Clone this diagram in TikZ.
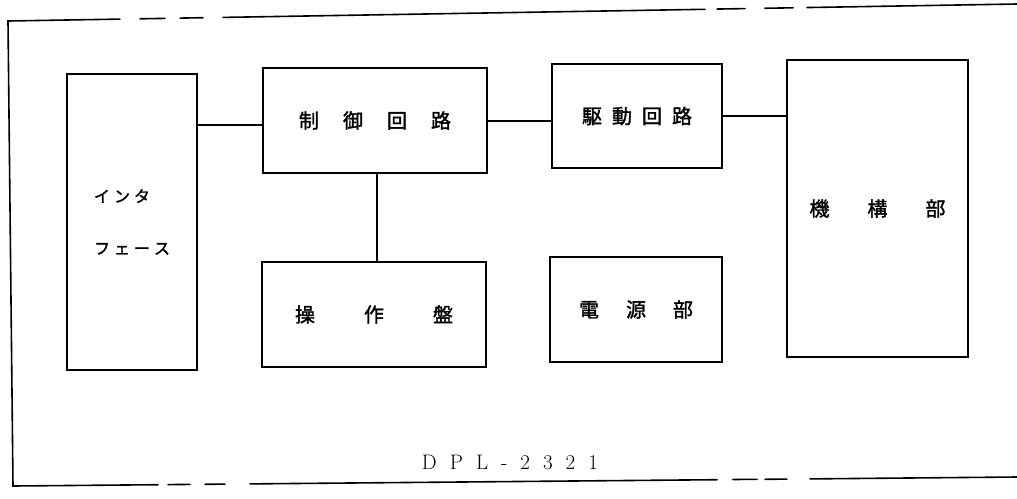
\documentclass[tikz,border=0pt]{standalone}
\usepackage{fontspec}
\newfontfamily\jp[FakeBold=1.6]{Noto Sans CJK JP}
\begin{document}
\begin{tikzpicture}[x=1pt,y=-1pt,
  blk/.style={draw, line width=2.2pt, rectangle, inner sep=0pt, font=\jp\fontsize{20}{20}\selectfont},
  wire/.style={line width=2pt},
  frame/.style={line width=1.6pt, line cap=round}]
\useasboundingbox (0,0) rectangle (1017,498);

% outer frame (broken print lines)
\draw[frame] (120,19.1) -- (8,21) -- (13,486) -- (158,484.7);
\draw[frame] (140,18.8) -- (165,18.4);
\draw[frame] (180,18.1) -- (203,17.7);
\draw[frame] (223,17.4) -- (705,9.3);
\draw[frame] (717,9.05) -- (745,8.6);
\draw[frame] (765,8.25) -- (793,7.8);
\draw[frame] (807,7.55) -- (1017,4);
\draw[frame] (168,484.6) -- (190,484.4);
\draw[frame] (205,484.3) -- (225,484.1);
\draw[frame] (250,483.9) -- (717,479.7);
\draw[frame] (733,479.5) -- (757,479.3);
\draw[frame] (765,479.3) -- (787,479.1);
\draw[frame] (810,478.9) -- (1017,477);

% blocks
\node[blk, minimum width=130pt, minimum height=296pt, align=left,
      font=\jp\fontsize{16}{52}\selectfont] (iface) at (132,222)
  {イ\hspace{4pt}ン\hspace{4pt}タ\\フ\hspace{4pt}ェ\hspace{4pt}ー\hspace{4pt}ス};
\node[blk, minimum width=224pt, minimum height=105pt] (ctrl) at (375,120.5)
  {制\hspace{24pt}御\hspace{24pt}回\hspace{24pt}路};
\node[blk, minimum width=170pt, minimum height=104pt] (drv) at (637,116)
  {駆\hspace{10pt}動\hspace{10pt}回\hspace{10pt}路\hspace{14pt}};
\node[blk, minimum width=181pt, minimum height=297pt] (mech) at (877.5,208.5)
  {\raisebox{-4pt}{機\hspace{38pt}構\hspace{38pt}部}};
\node[blk, minimum width=224pt, minimum height=105pt] (op) at (374,314.5)
  {\raisebox{-5pt}{操\hspace{49pt}作\hspace{49pt}盤}};
\node[blk, minimum width=172pt, minimum height=105pt] (pwr) at (636,309.5)
  {\raisebox{-3pt}{電\hspace{27pt}源\hspace{27pt}部}\hspace{6pt}};

% model label
\node[font=\fontsize{21}{21}\selectfont, inner sep=0pt] (model) at (510,462)
  {D\hspace{13pt}P\hspace{13pt}L\hspace{13pt}-\hspace{13pt}2\hspace{13pt}3\hspace{13pt}2\hspace{13pt}1};

% connectors
\draw[wire] ([yshift=-4.5pt]iface.east |- ctrl.west) -- ([yshift=-4.5pt]ctrl.west);
\draw[wire] (ctrl.east) -- (ctrl.east -| drv.west);
\draw[wire] (drv.east) -- (drv.east -| mech.west);
\draw[wire] ([xshift=2pt]ctrl.south) -- ([xshift=2pt]ctrl.south |- op.north);
\end{tikzpicture}
\end{document}
